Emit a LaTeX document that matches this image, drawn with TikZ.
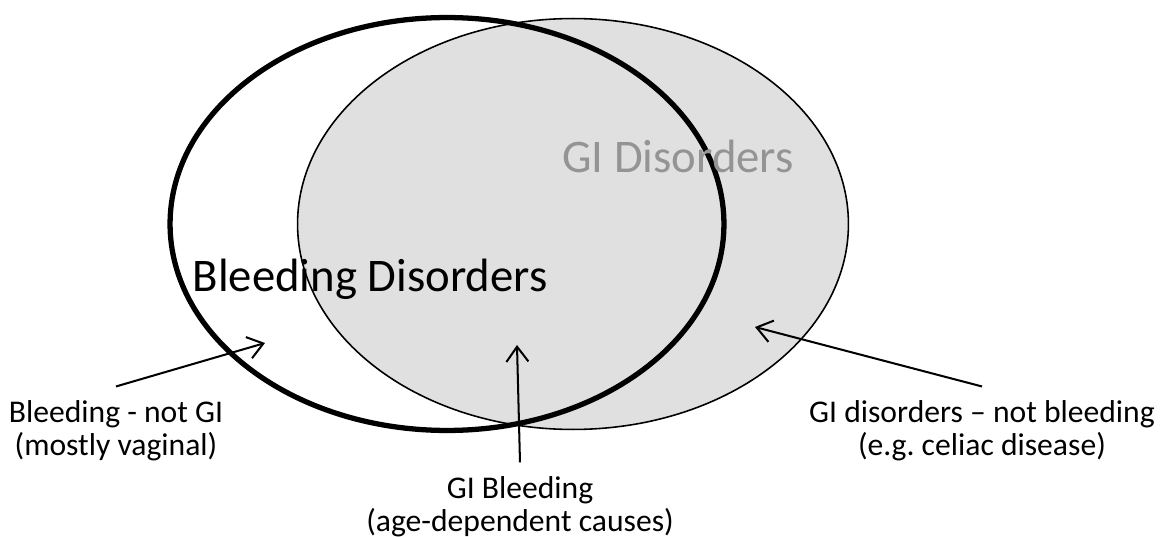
\documentclass[tikz,border=0pt]{standalone}
\usepackage{fontspec}
\setmainfont{Carlito}
\usetikzlibrary{arrows.meta}
\frenchspacing

\tikzset{
	setline/.style={draw=black, line width=#1},
	bigtext/.style={font=\fontsize{26.6}{28}\selectfont, inner sep=0pt},
	smalltext/.style={font=\fontsize{18}{18.7}\selectfont, align=center, inner sep=8pt},
	pointer/.style={-{Straight Barb[length=0.3cm, width=0.44cm]}, line width=1.15pt}
}

\begin{document}
\begin{tikzpicture}[x=0.02cm, y=-0.02cm]
		% Fix the frame
		\useasboundingbox (0,0) rectangle (1161,537);
		
		% Define centres
		\coordinate (GI) at (573,224);
		\coordinate (BL) at (447,224);
		
		% Draw sets
		\fill[black!12] (GI) ellipse [x radius=5.51cm, y radius=4.11cm];
		\draw[setline=0.9pt] (GI) ellipse [x radius=5.51cm, y radius=4.11cm];
		\draw[setline=3pt] (BL) ellipse [x radius=5.54cm, y radius=4.13cm];
		
		% Set names
		\node[bigtext, anchor=base, text=black!42] (ginam) at (678,173) {GI Disorders};
		\node[bigtext, anchor=base] (blnam) at (370,292) {Bleeding Disorders};
		
		% Region labels
		\node[smalltext] (onlybl) at (116,431) {Bleeding - not GI\\(mostly vaginal)};
		\node[smalltext] (both) at (520,507) {GI Bleeding\\(age-dependent causes)};
		\node[smalltext] (onlygi) at (982,431) {GI disorders -- not bleeding\\(e.g. celiac disease)};
		
		% Arrow tips
		\coordinate (tipbl) at (265,343);
		\coordinate (tipboth) at (517,345);
		\coordinate (tipgi) at (755,327);
		
		% Draw arrows
		\draw[pointer] (onlybl.north) -- (tipbl);
		\draw[pointer] (both.north) -- (tipboth);
		\draw[pointer] (onlygi.north) -- (tipgi);
		
	\end{tikzpicture}
\end{document}
